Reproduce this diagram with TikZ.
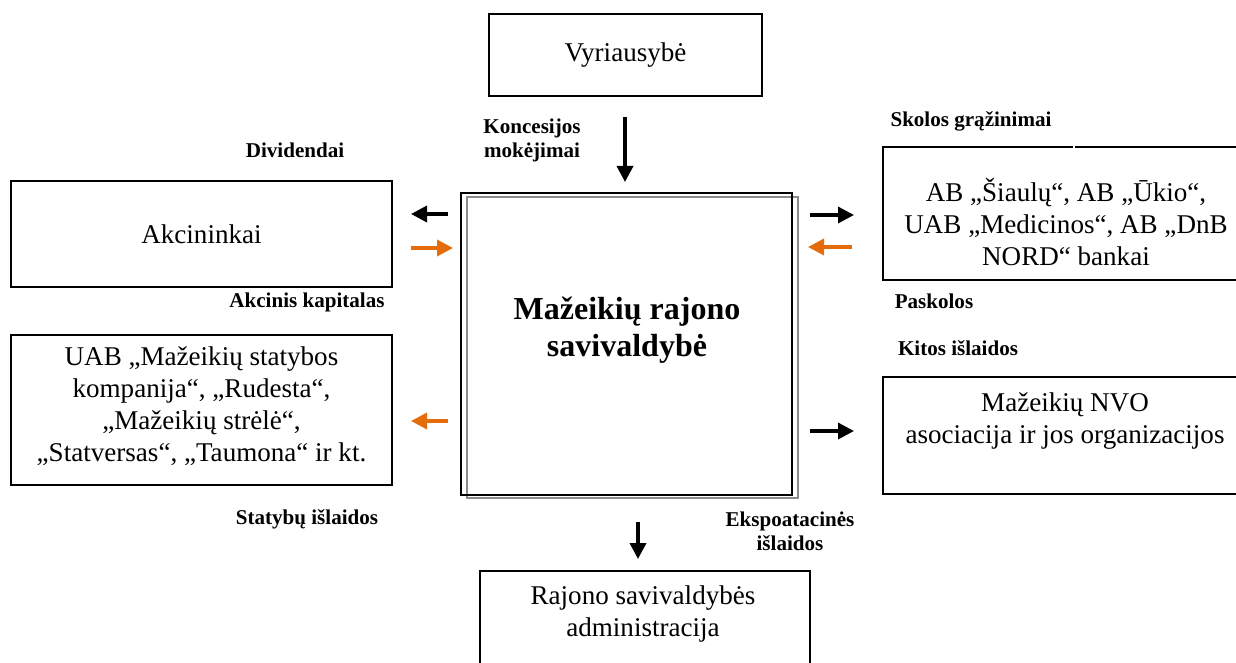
\documentclass[tikz,border=0pt]{standalone}
\usepackage{fontspec}
\setmainfont{Liberation Serif}
\usetikzlibrary{arrows.meta}
\definecolor{arrorange}{RGB}{228,108,10}
\definecolor{shadowgray}{RGB}{140,140,140}
\tikzset{
  boxnode/.style={draw=black, line width=1.1pt, inner sep=0pt, outer sep=0pt, fill=white},
  bodytext/.style={font=\fontsize{20.3}{24}\selectfont, align=center, inner sep=0pt},
  lbltext/.style={font=\bfseries\fontsize{15.8}{18}\selectfont, align=center, inner sep=0pt},
  titletext/.style={font=\bfseries\fontsize{24}{28}\selectfont, align=center, inner sep=0pt},
  flowarrow/.style={line width=2.6pt, -{Triangle[length=12pt,width=12pt]}},
}
\begin{document}
\begin{tikzpicture}[x=0.75pt,y=-0.75pt]
\useasboundingbox (0,0) rectangle (1236,663);
\clip (0,0) rectangle (1236,663);

% --- boxes ---
\node[boxnode, minimum width=204.75pt, minimum height=61.5pt, bodytext] (vyr) at (625.5,55) {Vyriausybė};

\node[boxnode, draw=shadowgray, minimum width=248.25pt, minimum height=226pt] (centershadow) at (632.5,347.5) {};
\node[boxnode, fill=none, minimum width=248.25pt, minimum height=226.5pt] (center) at (626.5,344) {};
\node[titletext] (centertext) at (627,330) {Mažeikių rajono\\savivaldybė};

\node[boxnode, minimum width=285.75pt, minimum height=79.5pt, bodytext] (akc) at (201.5,234) {Akcininkai};

\node[boxnode, minimum width=285.75pt, minimum height=112.5pt] (uab) at (201.5,410) {};
\node[bodytext] (uabtext) at (201.5,406) {UAB „Mažeikių statybos\\kompanija“, „Rudesta“,\\„Mažeikių strėlė“,\\„Statversas“, „Taumona“ ir kt.};

\node[boxnode, minimum width=275.25pt, minimum height=99.75pt] (banks) at (1066.5,213.5) {};
\coordinate (gapa) at (1073,147);
\coordinate (gapb) at (1075,147);
\draw[white, line width=1.4pt] (gapa) -- (gapb);
\node[bodytext] (bankstext) at (1066,222) {AB „Šiaulų“, AB „Ūkio“,\\UAB „Medicinos“, AB „DnB\\NORD“ bankai};

\node[boxnode, minimum width=275.25pt, minimum height=87.75pt] (nvo) at (1066.5,435.5) {};
\node[bodytext] (nvotext) at (1065,421) {Mažeikių NVO\\asociacija ir jos organizacijos};

\node[boxnode, minimum width=247.5pt, minimum height=96.75pt] (adm) at (645,635.5) {};
\node[bodytext] (admtext) at (643,614) {Rajono savivaldybės\\administracija};

% --- labels ---
\node[lbltext] (lkonc) at (532,140) {Koncesijos\\mokėjimai};
\node[lbltext] (ldiv) at (295,150) {Dividendai};
\node[lbltext] (lakc) at (307,302) {Akcinis kapitalas};
\node[lbltext] (lstat) at (307,519) {Statybų išlaidos};
\node[lbltext] (lskol) at (971,121) {Skolos grąžinimai};
\node[lbltext] (lpask) at (934,301) {Paskolos};
\node[lbltext] (lkit) at (958,348) {Kitos išlaidos};
\node[lbltext] (leksp) at (790,531) {Ekspoatacinės\\išlaidos};

% --- arrow end points ---
\coordinate (k1) at (625,117);   \coordinate (k2) at (625,182);
\coordinate (d1) at (448,214);   \coordinate (d2) at (411,214);
\coordinate (a1) at (411,248);   \coordinate (a2) at (453,248);
\coordinate (s1) at (448,421);   \coordinate (s2) at (411,421);
\coordinate (g1) at (810,215);   \coordinate (g2) at (854,215);
\coordinate (p1) at (852,247);   \coordinate (p2) at (808,247);
\coordinate (o1) at (810,431);   \coordinate (o2) at (854,431);
\coordinate (e1) at (638,522);   \coordinate (e2) at (638,559);

\draw[flowarrow] (k1) -- (k2);
\draw[flowarrow] (d1) -- (d2);
\draw[flowarrow, arrorange] (a1) -- (a2);
\draw[flowarrow, arrorange] (s1) -- (s2);
\draw[flowarrow] (g1) -- (g2);
\draw[flowarrow, arrorange] (p1) -- (p2);
\draw[flowarrow] (o1) -- (o2);
\draw[flowarrow] (e1) -- (e2);
\end{tikzpicture}
\end{document}
